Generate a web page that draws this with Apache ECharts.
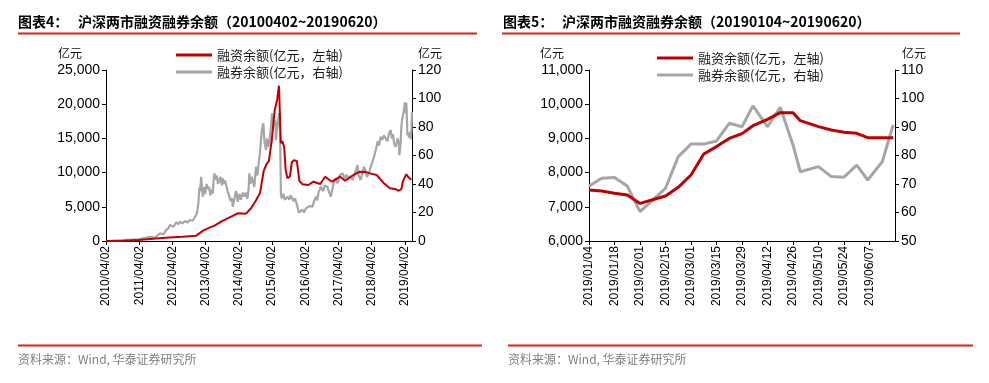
<!DOCTYPE html>
<html>
<head>
<meta charset="utf-8">
<script src="https://cdn.jsdelivr.net/npm/echarts@6/dist/echarts.min.js"></script>
<style>
html,body{margin:0;padding:0;background:#fff;}
#c{width:989px;height:383px;}
</style>
</head>
<body>
<div id="c"></div>
<script>
// ---------- data ----------
var seriesNames = ['融资余额(亿元，左轴)', '融券余额(亿元，右轴)'];

// Chart 4 (2010/04/02 ~ 2018), financing balance (left axis, 亿元)
var finHistDates = ['2010/04/02','2010/10/08','2011/04/01','2011/08/01','2012/01/13','2012/07/20','2012/12/21',
  '2013/03/05','2013/05/15','2013/07/09','2013/10/09','2014/01/08','2014/03/21','2014/06/20','2014/08/15',
  '2014/10/10','2014/11/21','2014/12/31','2015/01/30','2015/02/27','2015/03/31','2015/04/30','2015/05/29',
  '2015/06/18','2015/07/08','2015/07/24','2015/08/14','2015/08/31','2015/09/18','2015/10/16','2015/11/06',
  '2015/11/30','2015/12/31','2016/01/29','2016/02/29','2016/05/06','2016/07/01','2016/09/13','2016/11/07',
  '2017/01/20','2017/04/21','2017/06/14','2017/09/13','2017/11/24','2018/01/26','2018/03/16','2018/05/28',
  '2018/08/09','2018/10/19','2018/12/28'];
var finHistValues = [0,40,150,290,480,630,780,
  1510,1950,2240,2970,3550,4050,4000,4780,
  5990,7000,10200,11200,11700,14800,19000,20700,
  22700,14300,14600,13700,10300,9200,9400,11500,
  11800,11700,8800,8300,8190,8670,8330,9400,
  8670,9400,8820,9650,10130,10100,9890,9650,
  8520,7700,7550];

// Chart 4, securities lending balance (right axis, 亿元)
var lendHistDates = ['2010/04/02','2010/07/01','2010/10/08','2011/01/07','2011/04/02','2011/06/10','2011/08/01',
  '2011/09/16','2011/10/21','2011/11/18','2011/12/23','2012/01/20','2012/02/17','2012/03/05','2012/04/13',
  '2012/05/11','2012/06/08','2012/06/22','2012/07/20','2012/08/17','2012/09/14','2012/10/09','2012/11/09',
  '2012/12/02','2012/12/28','2013/01/11','2013/01/25','2013/02/01','2013/02/12','2013/02/22','2013/03/02',
  '2013/03/15','2013/03/29','2013/04/12','2013/04/26','2013/05/10','2013/05/24','2013/06/07','2013/06/20',
  '2013/06/28','2013/07/08','2013/07/19','2013/08/02','2013/08/16','2013/09/01','2013/09/13','2013/09/27',
  '2013/10/07','2013/10/18','2013/11/01','2013/11/13','2013/11/29','2013/12/19','2014/01/03','2014/01/17',
  '2014/01/25','2014/02/14','2014/02/28','2014/03/10','2014/03/21','2014/04/09','2014/04/25','2014/05/16',
  '2014/06/02','2014/06/20','2014/07/04','2014/07/18','2014/07/27','2014/08/08','2014/08/22','2014/09/02',
  '2014/09/19','2014/10/08','2014/10/24','2014/11/07','2014/11/21','2014/12/02','2014/12/12','2014/12/28',
  '2015/01/09','2015/01/26','2015/02/06','2015/02/17','2015/03/03','2015/03/13','2015/03/24','2015/04/02',
  '2015/04/14','2015/04/27','2015/05/08','2015/05/15','2015/05/29','2015/06/10','2015/06/21','2015/06/30',
  '2015/07/09','2015/07/17','2015/07/27','2015/08/07','2015/08/21','2015/09/04','2015/09/20','2015/10/09',
  '2015/10/23','2015/11/13','2015/11/27','2015/12/11','2015/12/25','2016/01/07','2016/01/22','2016/02/13',
  '2016/03/04','2016/03/18','2016/04/09','2016/04/29','2016/05/20','2016/06/21','2016/07/08','2016/07/27',
  '2016/08/12','2016/08/26','2016/09/20','2016/10/14','2016/11/04','2016/12/02','2016/12/16','2017/01/08',
  '2017/01/20','2017/02/10','2017/03/04','2017/03/24','2017/04/14','2017/05/16','2017/06/09','2017/06/30',
  '2017/07/21','2017/08/11','2017/09/03','2017/09/22','2017/10/13','2017/10/28','2017/11/10','2017/12/03',
  '2017/12/22','2018/01/09','2018/01/26','2018/02/09','2018/03/05','2018/03/23','2018/04/13','2018/04/29',
  '2018/05/18','2018/06/08','2018/06/22','2018/07/11','2018/07/27','2018/08/17','2018/09/04','2018/09/21',
  '2018/10/12','2018/10/29','2018/11/09','2018/11/23','2018/12/05','2018/12/21'];
var lendHistValues = [0,0.3,0.6,1.0,1.4,2.2,3.0,
  2.4,4.0,5.4,4.5,7.5,9.0,11.2,10.0,
  13.0,11.8,13.5,12.4,14.0,13.0,14.7,14.2,
  16.5,19.4,26.0,38.1,35.0,45.1,36.0,31.1,
  38.0,33.0,40.0,36.5,38.1,32.0,36.0,33.4,
  42.0,47.5,43.0,46.0,40.0,40.5,45.0,39.0,
  44.0,40.0,42.5,39.3,35.0,31.1,28.0,30.0,
  24.0,30.0,35.0,33.4,27.5,33.0,29.0,34.0,
  31.1,34.0,29.5,36.0,47.5,40.0,45.0,42.8,
  38.0,52.1,46.0,55.0,62.0,70.9,78.0,82.6,
  70.0,63.9,72.0,66.0,68.6,75.0,82.0,89.6,
  84.0,80.2,85.0,70.9,80.0,86.0,89.6,75.0,
  33.5,30.0,28.8,33.0,29.0,30.0,31.1,29.0,
  32.0,32.3,28.0,30.0,27.0,24.1,20.0,19.4,
  22.0,20.0,22.9,21.5,24.5,24.1,28.0,31.1,
  28.5,34.0,38.1,35.0,39.0,38.1,35.0,31.1,
  35.0,41.0,44.0,40.5,46.0,47.5,44.0,46.5,
  43.5,45.5,42.8,46.0,50.0,53.3,46.0,42.8,
  48.0,52.1,49.0,45.0,47.5,52.0,56.0,59.2,
  64.0,70.0,67.0,73.2,71.0,74.0,74.4,70.0,
  76.0,77.9,72.0,75.0,68.6,66.0];

// Chart 5 (2019/01/04 ~ 2019/06/20), weekly
var dates2019 = ['2019/01/04','2019/01/11','2019/01/18','2019/01/25','2019/02/01','2019/02/15','2019/02/22',
  '2019/03/01','2019/03/08','2019/03/15','2019/03/22','2019/03/29','2019/04/04','2019/04/12','2019/04/19',
  '2019/04/26','2019/04/30','2019/05/10','2019/05/17','2019/05/24','2019/05/31','2019/06/06','2019/06/14',
  '2019/06/20'];
var fin2019 = [7490,7460,7395,7345,7100,7316,7570,
  7930,8544,8760,9000,9140,9372,9558,9752,
  9752,9518,9343,9246,9178,9149,9020,9020,
  9020];
var lend2019 = [69.3,72.0,72.3,69.3,60.3,68.5,79.6,
  84.0,84.0,85.1,91.3,90.1,97.4,90.1,96.9,
  83.7,74.3,76.1,72.6,72.4,76.6,71.4,77.8,
  90.7];

var xTickLabels4 = ['2010/04/02','2011/04/02','2012/04/02','2013/04/02','2014/04/02',
  '2015/04/02','2016/04/02','2017/04/02','2018/04/02','2019/04/02'];

// ---------- helpers ----------
function ts(s){ var p = s.split('/'); return Date.UTC(+p[0], +p[1]-1, +p[2]); }
var DAY = 864e5;
var start4 = ts('2010/04/02');
var start5 = ts('2019/01/04');
function yr4(s){ return (ts(s) - start4) / DAY / 365.25; }
function day5(s){ return (ts(s) - start5) / DAY; }
function pairs(ds, vs, fx){ return ds.map(function(d,i){ return [fx(d), vs[i]]; }); }
function comma(v){ return String(v).replace(/\B(?=(\d{3})+(?!\d))/g, ','); }
function pad(n){ return (n<10?'0':'')+n; }

var finAll = finHistDates.concat(dates2019), finAllV = finHistValues.concat(fin2019);
var lendAll = lendHistDates.concat(dates2019), lendAllV = lendHistValues.concat(lend2019);

var NUMF = 'Arial, "Liberation Sans", sans-serif';
var CJKF = '"Noto Sans CJK SC", sans-serif';
var RED = '#c00000', GRAY = '#a6a6a6', LINE_RED = '#e3200f';

function yAx(grid, pos, min, max, itv, fmt){
  return {type:'value', gridIndex:grid, position:pos, min:min, max:max, interval:itv,
    axisLine:{show:true, lineStyle:{color:'#000', width:1}},
    axisTick:{show:true, length:4, lineStyle:{color:'#000'}},
    splitLine:{show:false},
    axisLabel:{color:'#000', fontSize:14, fontFamily:NUMF, margin:6, formatter:fmt}};
}
function xAx(grid, min, max, itv, fmt){
  return {type:'value', gridIndex:grid, min:min, max:max, interval:itv,
    axisLine:{show:true, onZero:false, lineStyle:{color:'#000', width:1}},
    axisTick:{show:true, length:4, lineStyle:{color:'#000'}},
    splitLine:{show:false},
    axisLabel:{color:'#000', fontSize:12, fontFamily:NUMF, rotate:90, margin:5,
      showMinLabel:true, showMaxLabel:false, formatter:fmt}};
}
function legendAt(left, top){
  return {left:left, top:top, orient:'vertical', padding:0, itemGap:3, itemWidth:36, itemHeight:3,
    icon:'rect', data:seriesNames,
    textStyle:{fontFamily:CJKF, fontSize:13, color:'#1a1a1a', lineHeight:14}};
}
function txt(x, y, t, font, color){
  return {type:'text', left:x, top:y, style:{text:t, font:font, fill:color}};
}
function hline(x1, x2, y){
  return {type:'line', shape:{x1:x1, y1:y, x2:x2, y2:y}, style:{stroke:LINE_RED, lineWidth:2}};
}

var chart = echarts.init(document.getElementById('c'), null, {renderer:'canvas'});
chart.setOption({
  animation:false,
  backgroundColor:'#fff',
  grid:[
    {left:106, top:70, width:306, height:171},
    {left:589, top:70, width:306, height:171}
  ],
  legend:[legendAt(176, 48), legendAt(657, 51)],
  xAxis:[
    xAx(0, 0, yr4('2019/06/20'), 1, function(v){
      var i = Math.round(v); return Math.abs(v-i) < 1e-6 && xTickLabels4[i] ? xTickLabels4[i] : ''; }),
    xAx(1, 0, 168, 14, function(v){
      if (v >= 168) return '';
      var d = new Date(start5 + v*DAY);
      return d.getUTCFullYear() + '/' + pad(d.getUTCMonth()+1) + '/' + pad(d.getUTCDate()); })
  ],
  yAxis:[
    yAx(0, 'left', 0, 25000, 5000, comma),
    yAx(0, 'right', 0, 120, 20),
    yAx(1, 'left', 6000, 11000, 1000, comma),
    yAx(1, 'right', 50, 110, 10)
  ],
  series:[
    {name:seriesNames[0], type:'line', xAxisIndex:0, yAxisIndex:0, showSymbol:false, z:3,
      lineStyle:{color:RED, width:2}, itemStyle:{color:RED},
      data:pairs(finAll, finAllV, yr4)},
    {name:seriesNames[1], type:'line', xAxisIndex:0, yAxisIndex:1, showSymbol:false, z:2,
      lineStyle:{color:GRAY, width:2.2}, itemStyle:{color:GRAY},
      data:pairs(lendAll, lendAllV, yr4)},
    {name:seriesNames[0], type:'line', xAxisIndex:1, yAxisIndex:2, showSymbol:false, z:3,
      lineStyle:{color:RED, width:3}, itemStyle:{color:RED},
      data:pairs(dates2019, fin2019, day5)},
    {name:seriesNames[1], type:'line', xAxisIndex:1, yAxisIndex:3, showSymbol:false, z:2,
      lineStyle:{color:GRAY, width:3}, itemStyle:{color:GRAY},
      data:pairs(dates2019, lend2019, day5)}
  ],
  graphic:[
    txt(18, 15, '图表4：', 'bold 14px ' + CJKF, '#000'),
    txt(78, 15, '沪深两市融资融券余额（20100402~20190620）', 'bold 14px ' + CJKF, '#000'),
    txt(503, 15, '图表5：', 'bold 14px ' + CJKF, '#000'),
    txt(562, 15, '沪深两市融资融券余额（20190104~20190620）', 'bold 14px ' + CJKF, '#000'),
    hline(18, 477, 33.5),
    hline(502, 960, 33.5),
    hline(18, 482, 345.5),
    hline(508, 973, 345.5),
    txt(58, 47, '亿元', '12px ' + CJKF, '#111'),
    txt(418, 47, '亿元', '12px ' + CJKF, '#111'),
    txt(540, 47, '亿元', '12px ' + CJKF, '#111'),
    txt(902, 47, '亿元', '12px ' + CJKF, '#111'),
    txt(18, 353, '资料来源：Wind, 华泰证券研究所', '12px ' + CJKF, '#7f7f7f'),
    txt(508, 353, '资料来源：Wind, 华泰证券研究所', '12px ' + CJKF, '#7f7f7f')
  ]
});
</script>
</body>
</html>
